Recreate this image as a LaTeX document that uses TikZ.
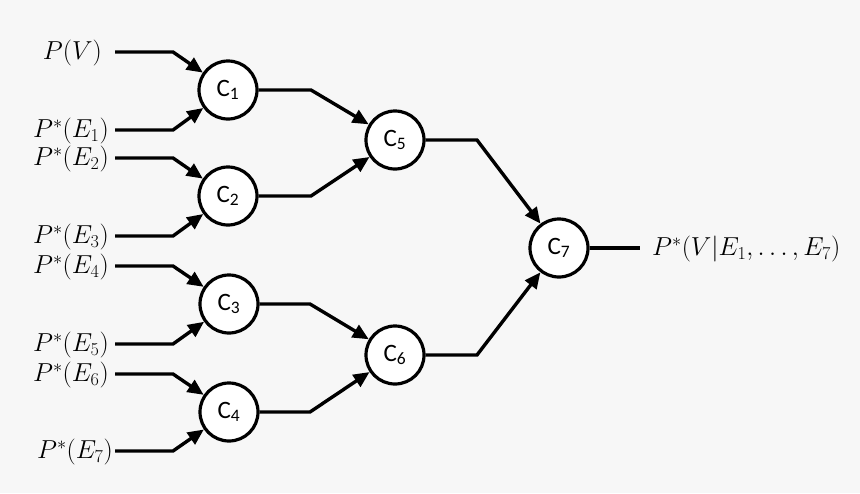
\RequirePackage{fix-cm}
\documentclass[tikz,border=0pt]{standalone}
\usepackage{fontspec}
\newfontfamily\calfont{Carlito}
\usetikzlibrary{arrows.meta}
\definecolor{bgc}{HTML}{F7F7F7}
\begin{document}
\begin{tikzpicture}[x=1pt,y=-1pt,
  cnode/.style={circle,draw=black,fill=white,line width=3.2pt,minimum size=58pt,inner sep=0pt,font=\calfont\fontsize{25}{27}\selectfont},
  lab/.style={anchor=east,inner sep=0pt,font=\fontsize{26}{29}\selectfont},
  wire/.style={line width=3.4pt,line join=miter},
  arr/.style={wire,-{Triangle[length=16pt,width=14pt]}}]
\fill[bgc] (0,0) rectangle (860,493);
\useasboundingbox (0,0) rectangle (860,493);
% nodes
\node[cnode] (C1) at (228,90) {C\textsubscript{1}};
\node[cnode] (C2) at (228,196) {C\textsubscript{2}};
\node[cnode] (C3) at (229,304) {C\textsubscript{3}};
\node[cnode] (C4) at (229,412) {C\textsubscript{4}};
\node[cnode] (C5) at (395,140) {C\textsubscript{5}};
\node[cnode] (C6) at (395,355) {C\textsubscript{6}};
\node[cnode] (C7) at (559,248) {C\textsubscript{7}};
% labels
\node[lab] (L0) at (102,53) {$P(V)$};
\node[lab] (L1) at (109,131) {$P^*(E_1)$};
\node[lab] (L2) at (109,159) {$P^*(E_2)$};
\node[lab] (L3) at (109,237) {$P^*(E_3)$};
\node[lab] (L4) at (109,267) {$P^*(E_4)$};
\node[lab] (L5) at (109,345) {$P^*(E_5)$};
\node[lab] (L6) at (109,375) {$P^*(E_6)$};
\node[lab] (L7) at (113,452) {$P^*(E_7)$};
\node[lab,anchor=west] (LO) at (652,249) {$P^*(V|E_1,\ldots,E_7)$};
% coordinates
\coordinate (s0) at (115,52);  \coordinate (b0) at (173,52);
\coordinate (s1) at (115,130); \coordinate (b1) at (173,130);
\coordinate (s2) at (115,158); \coordinate (b2) at (173,158);
\coordinate (s3) at (115,236); \coordinate (b3) at (173,236);
\coordinate (s4) at (115,266); \coordinate (b4) at (173,266);
\coordinate (s5) at (115,344); \coordinate (b5) at (173,344);
\coordinate (s6) at (115,374); \coordinate (b6) at (173,374);
\coordinate (s7) at (115,451); \coordinate (b7) at (173,451);
\coordinate (m1) at (311,90);
\coordinate (m2) at (311,196);
\coordinate (m3) at (310,304);
\coordinate (m4) at (310,412);
\coordinate (m5) at (477,140);
\coordinate (m6) at (477,355);
\coordinate (out) at (640,248);
% input wires
\draw[arr] (s0) -- (b0) -- (C1);
\draw[arr] (s1) -- (b1) -- (C1);
\draw[arr] (s2) -- (b2) -- (C2);
\draw[arr] (s3) -- (b3) -- (C2);
\draw[arr] (s4) -- (b4) -- (C3);
\draw[arr] (s5) -- (b5) -- (C3);
\draw[arr] (s6) -- (b6) -- (C4);
\draw[arr] (s7) -- (b7) -- (C4);
% intermediate
\draw[arr] (C1.east) -- (m1) -- (C5);
\draw[arr] (C2.east) -- (m2) -- (C5);
\draw[arr] (C3.east) -- (m3) -- (C6);
\draw[arr] (C4.east) -- (m4) -- (C6);
\draw[arr] (C5.east) -- (m5) -- (C7);
\draw[arr] (C6.east) -- (m6) -- (C7);
\draw[wire] (C7.east) -- (out);
\end{tikzpicture}
\end{document}
